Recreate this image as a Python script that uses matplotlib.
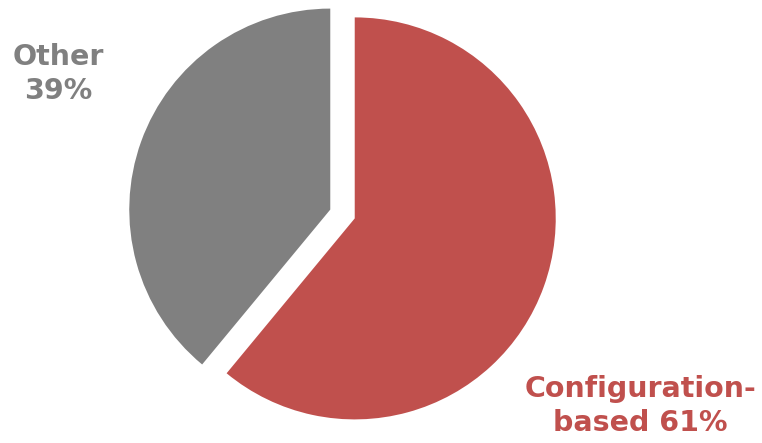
import matplotlib
matplotlib.use("Agg")
import matplotlib.pyplot as plt

labels = ["Configuration-\nbased 61%", "Other\n39%"]
shares = [61, 39]
colors = ["#C0504D", "#808080"]

W, H = 762, 443
fig = plt.figure(figsize=(W / 100, H / 100), dpi=100)
ax = fig.add_axes([0, 0, 1, 1])

# pie in pixel-like data coords (y up); explode is in data units here
ax.pie(shares, colors=colors, startangle=90, counterclock=False,
       center=(342.5, H - 214), radius=201, explode=[13, 13],
       frame=True, wedgeprops=dict(linewidth=0))
ax.set_xlim(0, W)
ax.set_ylim(0, H)
ax.set_aspect("equal")
ax.axis("off")

ax.text(58, H - 74, labels[1], color=colors[1], fontsize=20.5, fontweight="bold",
        ha="center", va="center", linespacing=1.27, family="DejaVu Sans")
ax.text(640, H - 406, labels[0], color=colors[0], fontsize=20.5, fontweight="bold",
        ha="center", va="center", linespacing=1.27, family="DejaVu Sans")

fig.savefig("out.png", dpi=100)
